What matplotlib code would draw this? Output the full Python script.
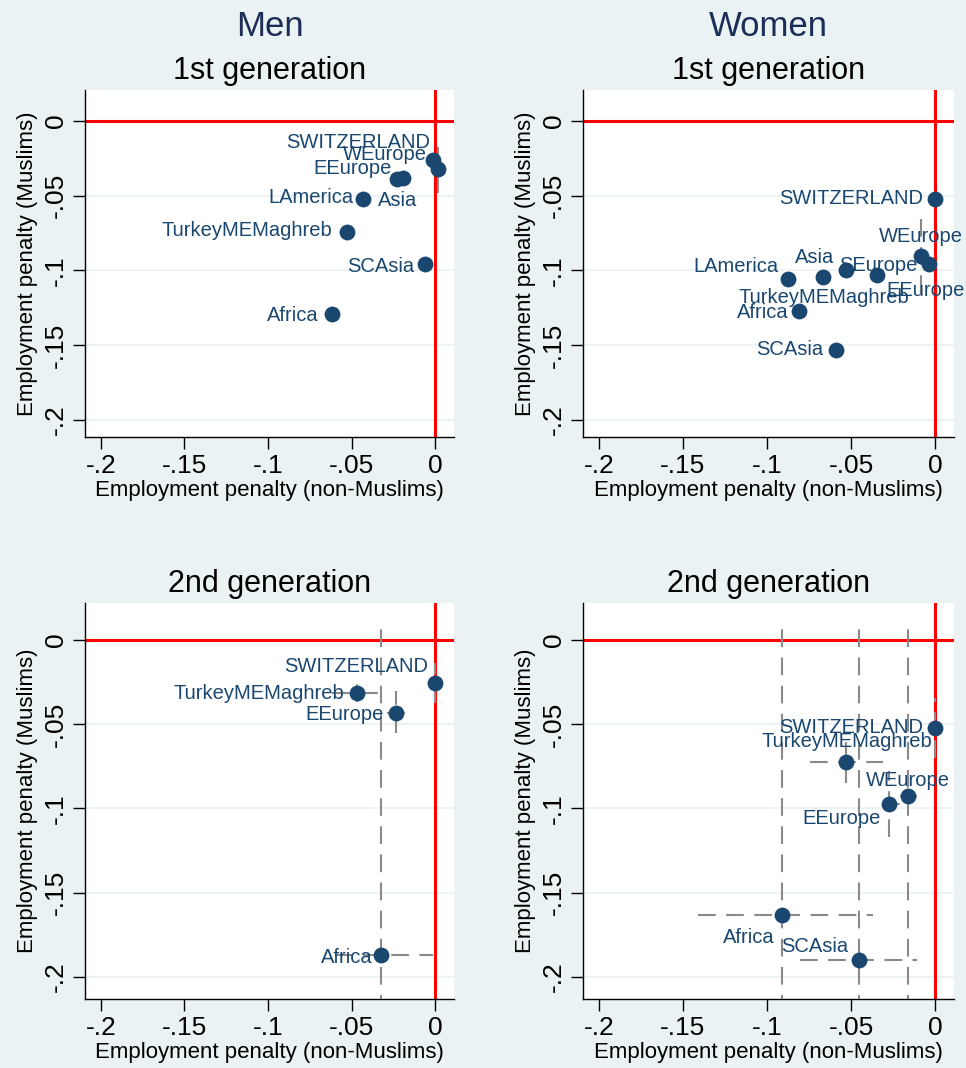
import numpy as np
import matplotlib
matplotlib.use("Agg")
import matplotlib.pyplot as plt

plt.rcParams['font.family'] = ['Liberation Sans', 'DejaVu Sans']

nan = np.nan

# --- dados ---
TICKS = [-.2, -.15, -.1, -.05, 0]
TICK_LABELS = ['-.2', '-.15', '-.1', '-.05', '0']

# Homens, 1a geração
men1_names = ['SWITZERLAND', 'WEurope', 'EEurope', 'Asia', 'LAmerica',
              'TurkeyMEMaghreb', 'SCAsia', 'Africa']
men1_x = [0.002, -0.001, -0.023, -0.019, -0.043, -0.053, -0.006, -0.062]
men1_y = [-0.032, -0.026, -0.039, -0.038, -0.052, -0.074, -0.096, -0.129]
men1_xlo = [nan] * 8
men1_xhi = [nan] * 8
men1_ylo = [-0.048, nan, nan, nan, nan, nan, nan, nan]
men1_yhi = [-0.016, nan, nan, nan, nan, nan, nan, nan]

# Mulheres, 1a geração
wom1_names = ['SWITZERLAND', 'WEurope', 'EEurope', 'SEurope', 'Asia',
              'LAmerica', 'TurkeyMEMaghreb', 'Africa', 'SCAsia']
wom1_x = [0.0, -0.0085, -0.0034, -0.0346, -0.0667, -0.0874, -0.053, -0.0811, -0.0589]
wom1_y = [-0.052, -0.090, -0.096, -0.103, -0.1045, -0.1057, -0.100, -0.127, -0.153]
wom1_xlo = [nan] * 9
wom1_xhi = [nan] * 9
wom1_ylo = [nan, -0.115, nan, nan, nan, nan, nan, nan, nan]
wom1_yhi = [nan, -0.0656, nan, nan, nan, nan, nan, nan, nan]

# Homens, 2a geração
men2_names = ['SWITZERLAND', 'TurkeyMEMaghreb', 'EEurope', 'Africa']
men2_x = [0.0, -0.0469, -0.0235, -0.0323]
men2_y = [-0.0257, -0.0316, -0.0431, -0.1867]
men2_xlo = [nan, -0.0619, -0.0289, -0.060]
men2_xhi = [nan, -0.0319, -0.018, -0.001]
men2_ylo = [-0.0374, -0.0366, -0.0553, -0.40]
men2_yhi = [-0.0136, -0.0247, -0.0306, 0.012]

# Mulheres, 2a geração
wom2_names = ['SWITZERLAND', 'TurkeyMEMaghreb', 'WEurope', 'EEurope', 'Africa', 'SCAsia']
wom2_x = [0.0, -0.0532, -0.0161, -0.0272, -0.0913, -0.0454]
wom2_y = [-0.0522, -0.0723, -0.0929, -0.0972, -0.1634, -0.1897]
wom2_xlo = [nan, -0.0744, -0.021, -0.0317, -0.141, -0.0804]
wom2_xhi = [nan, -0.0308, -0.011, -0.0208, -0.0369, -0.0107]
wom2_ylo = [-0.070, -0.0849, -0.40, -0.1168, -0.40, -0.40]
wom2_yhi = [-0.0344, -0.0603, 0.012, -0.0777, 0.012, 0.012]

# --- estilo ---
BG = '#EAF2F3'
NAVY = '#1a476f'
TITLE_COLOR = '#1c2d58'
CI_COLOR = '#8a8a8a'
XLIM = (-0.2095, 0.0113)

# posição dos rótulos (pixels a partir do ponto)
men1_off = {'SWITZERLAND': (-8, 26, 'right'), 'WEurope': (-7, 5, 'right'),
            'EEurope': (-5, 11, 'right'), 'Asia': (-25, -23, 'left'),
            'LAmerica': (-10, 1, 'right'), 'TurkeyMEMaghreb': (-14, 1, 'right'),
            'SCAsia': (-11, -2, 'right'), 'Africa': (-13, -2, 'right')}
wom1_off = {'SWITZERLAND': (-12, 0, 'right'), 'WEurope': (0, 19, 'center'),
            'EEurope': (-4, -26, 'center'), 'SEurope': (1, 9, 'center'),
            'Asia': (-8, 20, 'center'), 'LAmerica': (-10, 12, 'right'),
            'TurkeyMEMaghreb': (-22, -27, 'center'), 'Africa': (-10, -2, 'right'),
            'SCAsia': (-13, 0, 'right')}
men2_off = {'SWITZERLAND': (-7, 17, 'right'), 'TurkeyMEMaghreb': (-12, 0, 'right'),
            'EEurope': (-12, -2, 'right'), 'Africa': (-9, -3, 'right')}
wom2_off = {'SWITZERLAND': (-12, 0, 'right'), 'TurkeyMEMaghreb': (1, 20, 'center'),
            'WEurope': (0, 16, 'center'), 'EEurope': (-9, -15, 'right'),
            'Africa': (-7, -22, 'right'), 'SCAsia': (-10, 13, 'right')}


def desenha(ax, names, x, y, xlo, xhi, ylo, yhi, off, ylim, subtitulo):
    ax.set_facecolor('white')
    ax.set_xlim(XLIM)
    ax.set_ylim(ylim)
    ax.set_xticks(TICKS, TICK_LABELS)
    ax.set_yticks(TICKS, TICK_LABELS)
    ax.tick_params(length=8.5, width=1, labelsize=19, pad=4, color='black')
    ax.tick_params(axis='y', labelrotation=90)
    for t in ax.get_yticklabels():
        t.set_va('center')
    for s in ['top', 'right']:
        ax.spines[s].set_visible(False)
    for s in ['left', 'bottom']:
        ax.spines[s].set_linewidth(1)
    ax.yaxis.grid(True, color=BG, lw=1.3)
    ax.set_axisbelow(True)

    ax.axhline(0, color='red', lw=2.2, zorder=2)
    ax.axvline(0, color='red', lw=2.2, zorder=2)

    # intervalos de confiança
    ls = (0, (8.5, 5))
    for xi, yi, a, b in zip(x, y, xlo, xhi):
        if not np.isnan(a):
            ax.plot([a, b], [yi, yi], color=CI_COLOR, lw=1.5, ls=ls, zorder=3)
    for xi, yi, a, b in zip(x, y, ylo, yhi):
        if not np.isnan(a):
            ax.plot([xi, xi], [a, b], color=CI_COLOR, lw=1.5, ls=ls, zorder=3)

    ax.scatter(x, y, s=130, color=NAVY, linewidths=0, zorder=4)
    for n, xi, yi in zip(names, x, y):
        dx, dy, ha = off[n]
        ax.annotate(n, (xi, yi), xytext=(dx, dy), textcoords='offset pixels',
                    ha=ha, va='center', fontsize=14.5, color=NAVY, zorder=5,
                    annotation_clip=False)

    ax.set_title(subtitulo, fontsize=22, pad=8)
    ax.set_xlabel('Employment penalty (non-Muslims)', fontsize=16, labelpad=1)
    ax.set_ylabel('Employment penalty (Muslims)', fontsize=16, labelpad=4)


W, H = 966, 1068
fig = plt.figure(figsize=(W / 100, H / 100), dpi=100, facecolor=BG)

def caixa(l, r, t, b):
    return [l / W, 1 - b / H, (r - l) / W, (b - t) / H]

ax1 = fig.add_axes(caixa(85, 454, 90, 437))
ax2 = fig.add_axes(caixa(583, 954, 90, 437))
ax3 = fig.add_axes(caixa(85, 454, 603, 999))
ax4 = fig.add_axes(caixa(583, 954, 603, 999))

YLIM_TOP = (-0.2114, 0.0207)
YLIM_BOT = (-0.2131, 0.0219)

desenha(ax1, men1_names, men1_x, men1_y, men1_xlo, men1_xhi, men1_ylo, men1_yhi,
        men1_off, YLIM_TOP, '1st generation')
desenha(ax2, wom1_names, wom1_x, wom1_y, wom1_xlo, wom1_xhi, wom1_ylo, wom1_yhi,
        wom1_off, YLIM_TOP, '1st generation')
desenha(ax3, men2_names, men2_x, men2_y, men2_xlo, men2_xhi, men2_ylo, men2_yhi,
        men2_off, YLIM_BOT, '2nd generation')
desenha(ax4, wom2_names, wom2_x, wom2_y, wom2_xlo, wom2_xhi, wom2_ylo, wom2_yhi,
        wom2_off, YLIM_BOT, '2nd generation')

fig.text(269.5 / W, 1 - 36 / H, 'Men', ha='center', va='baseline',
         fontsize=25, color=TITLE_COLOR)
fig.text(768.5 / W, 1 - 36 / H, 'Women', ha='center', va='baseline',
         fontsize=25, color=TITLE_COLOR)

fig.savefig('out.png', dpi=100, facecolor=BG)
